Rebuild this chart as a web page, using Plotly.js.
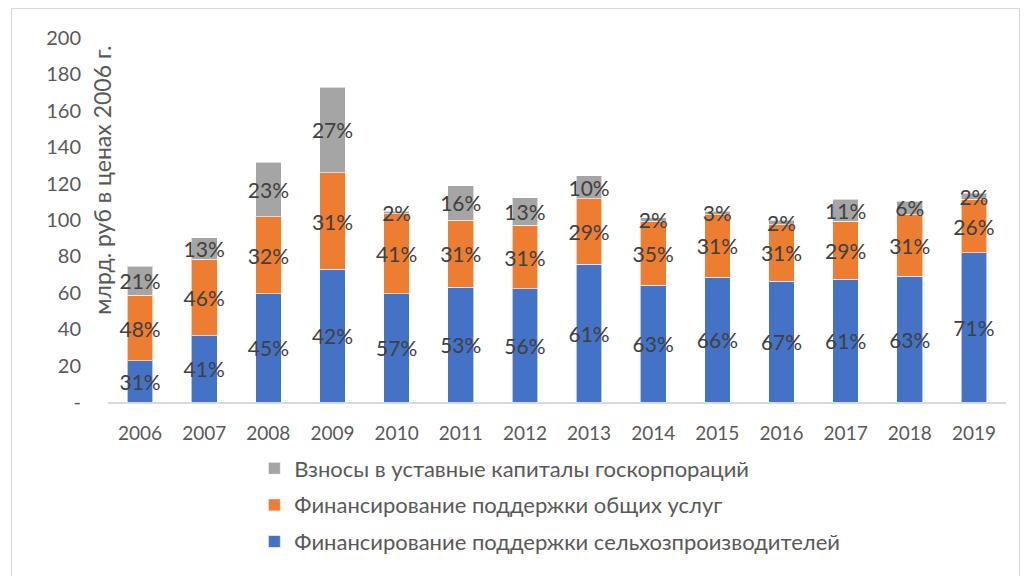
<!DOCTYPE html>
<html><head><meta charset="utf-8">
<script src="https://cdn.plot.ly/plotly-3.0.1.min.js"></script>
<style>body{margin:0;background:#fff}#frame{position:absolute;left:11px;top:8px;width:1009px;height:600px;border:1px solid #d9d9d9;box-sizing:border-box}#chart{position:absolute;left:0;top:0;width:1031px;height:576px}</style>
</head><body><div id="frame"></div><div id="chart"></div>
<script>
const years = ['2006','2007','2008','2009','2010','2011','2012','2013','2014','2015','2016','2017','2018','2019'];
const producers = [22.7,36.5,59.5,72.9,59.5,63.0,62.1,75.6,64.1,68.5,66.3,67.4,69.0,81.9];
const services  = [35.9,41.9,42.3,53.1,43.9,36.9,34.9,36.1,35.2,34.5,31.2,31.9,34.0,29.4];
const capital   = [15.9,11.8,30.0,47.0,1.3,18.9,15.2,12.7,1.9,1.8,2.4,12.0,7.3,3.5];
const producersPct = ['31%','41%','45%','42%','57%','53%','56%','61%','63%','66%','67%','61%','63%','71%'];
const servicesPct  = ['48%','46%','32%','31%','41%','31%','31%','29%','35%','31%','31%','29%','31%','26%'];
const capitalPct   = ['21%','13%','23%','27%','2%','16%','13%','10%','2%','3%','2%','11%','6%','2%'];
const names = ['Финансирование поддержки сельхозпроизводителей','Финансирование поддержки общих услуг','Взносы в уставные капиталы госкорпораций'];
const yTickVals = [0,20,40,60,80,100,120,140,160,180,200];
const yTickText = ['-','20','40','60','80','100','120','140','160','180','200'];
const yTitle = 'млрд. руб в ценах 2006 г.';

const font = 'Lato, "Open Sans", sans-serif';
function tr(y, txt, name, color, grp, rank){
  return {type:'bar', x:years, y:y, text:txt, name:name, legendgroup:grp, legendrank:rank,
    textposition:'inside', insidetextanchor:'middle', constraintext:'none', textangle:0,
    textfont:{family:font, size:21, color:'#404040'},
    marker:{color:color, line:{color:'rgba(255,255,255,0.6)', width:1}},
    hoverinfo:'skip'};
}
const data = [
  tr(producers, producersPct, names[0], '#4472C4', 'a', 3),
  tr(services, servicesPct, names[1], '#ED7D31', 'b', 2),
  tr(capital, capitalPct, names[2], '#A5A5A5', 'c', 1)
];
const layout = {
  width:1031, height:576, barmode:'stack', bargap:0.6,
  paper_bgcolor:'rgba(0,0,0,0)', plot_bgcolor:'rgba(0,0,0,0)',
  margin:{l:108, r:25, t:38, b:174},
  font:{family:font, color:'#595959', size:19},
  xaxis:{type:'category', showline:true, linecolor:'#d9d9d9', linewidth:1.5, ticks:'', ticklabelstandoff:14,
    tickfont:{size:19, color:'#595959'}, showgrid:false, zeroline:false},
  yaxis:{range:[0,200], tickvals:yTickVals, ticktext:yTickText, showgrid:false, zeroline:false, showline:false,
    ticks:'', ticklabelstandoff:26, tickfont:{size:20, color:'#595959'}},
  showlegend:true,
  legend:{orientation:'v', traceorder:'grouped', x:0.163, xanchor:'left', y:-0.125, yanchor:'top',
    font:{size:22, color:'#595959'}, tracegroupgap:5, bgcolor:'rgba(0,0,0,0)', itemwidth:30},
  annotations:[{text:yTitle, xref:'paper', yref:'paper', x:-0.007, y:0.61, xanchor:'center', yanchor:'middle',
    textangle:-90, showarrow:false, font:{size:23, color:'#595959'}}]
};
Plotly.newPlot('chart', data, layout, {displayModeBar:false, staticPlot:true});
</script></body></html>
